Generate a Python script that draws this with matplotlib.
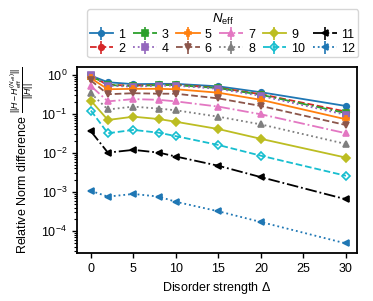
import matplotlib
matplotlib.use("Agg")
import matplotlib.pyplot as plt
import numpy as np

plt.rcParams['font.family'] = ['Liberation Sans', 'DejaVu Sans']
plt.rcParams['mathtext.fontset'] = 'custom'
plt.rcParams['mathtext.rm'] = 'Liberation Sans'
plt.rcParams['mathtext.it'] = 'Liberation Sans:italic'

disorder = [0, 2, 5, 8, 10, 15, 20, 30]
n_eff = [1, 2, 3, 4, 5, 6, 7, 8, 9, 10, 11, 12]

s1 = [0.96, 0.65, 0.58, 0.59, 0.59, 0.51, 0.36, 0.16]
s2 = [0.92, 0.56, 0.53, 0.56, 0.56, 0.47, 0.32, 0.115]
s3 = [0.95, 0.55, 0.52, 0.55, 0.55, 0.46, 0.31, 0.105]
s4 = [1.00, 0.53, 0.50, 0.53, 0.53, 0.44, 0.29, 0.095]
s5 = [0.82, 0.43, 0.44, 0.44, 0.43, 0.35, 0.23, 0.073]
s6 = [0.72, 0.32, 0.34, 0.33, 0.33, 0.25, 0.16, 0.052]
s7 = [0.52, 0.21, 0.24, 0.23, 0.21, 0.154, 0.098, 0.032]
s8 = [0.34, 0.13, 0.154, 0.137, 0.124, 0.085, 0.054, 0.017]
s9 = [0.22, 0.070, 0.085, 0.074, 0.063, 0.041, 0.023, 0.0076]
s10 = [0.122, 0.032, 0.039, 0.033, 0.027, 0.016, 0.0085, 0.0026]
s11 = [0.036, 0.0102, 0.012, 0.0102, 0.0081, 0.0047, 0.0024, 0.00065]
s12 = [0.00107, 0.00076, 0.00089, 0.00076, 0.00056, 0.00032, 0.00017, 0.000048]
series = [s1, s2, s3, s4, s5, s6, s7, s8, s9, s10, s11, s12]

colors = ['#1f77b4', '#d62728', '#2ca02c', '#9467bd', '#ff7f0e', '#8c564b',
          '#e377c2', '#7f7f7f', '#bcbd22', '#17becf', 'black', '#1f77b4']
markers = ['o', 'o', 's', 's', 'P', 'v', '^', '^', 'D', 'D', '<', '<']
styles = ['-', '--', '-.', ':']
fills = ['full'] * 9 + ['none', 'full', 'full']

fig = plt.figure(figsize=(3.73, 3.01), dpi=100)
ax = fig.add_axes([0.206, 0.160, 0.751, 0.617])

for i, (n, ys) in enumerate(zip(n_eff, series)):
    ax.errorbar(disorder, ys, yerr=np.zeros(len(ys)), color=colors[i],
                marker=markers[i], markersize=4, fillstyle=fills[i],
                markeredgewidth=1.2, linestyle=styles[i % 4], linewidth=1.3,
                label=str(n), elinewidth=1.2)

ax.set_yscale('log')
ax.set_ylim(10 ** -4.56, 10 ** 0.2)
ax.set_xlim(-1.65, 31.3)
ax.set_xticks([0, 5, 10, 15, 20, 25, 30])
ax.tick_params(labelsize=9, width=1.0)
ax.tick_params(which='minor', width=0.8)
for sp in ax.spines.values():
    sp.set_linewidth(1.3)
ax.set_xlabel(r'Disorder strength $\Delta$', fontsize=9)
ax.set_ylabel(r'Relative Norm difference $\frac{||H - H_{\rm eff}^{(N_{\rm eff})}||}{||H||}$', fontsize=9)

ax.legend(ncol=6, title=r'$N_{\rm eff}$', fontsize=9, title_fontsize=9.5,
          loc='lower center', bbox_to_anchor=(0.52, 1.02), columnspacing=0.6,
          handletextpad=0.4, handlelength=1.9, borderpad=0.2, labelspacing=0.15)

fig.savefig('out.png', dpi=100)
